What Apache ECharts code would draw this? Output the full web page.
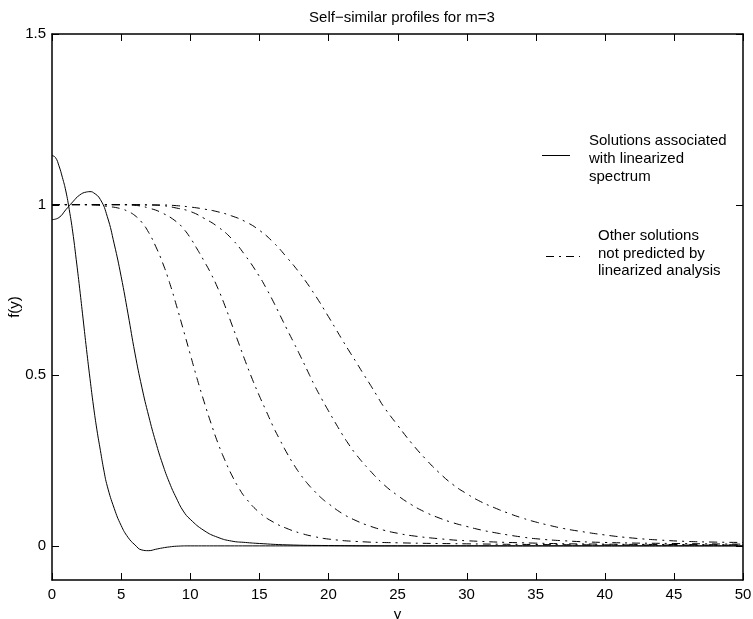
<!DOCTYPE html>
<html>
<head>
<meta charset="utf-8">
<script src="https://cdn.jsdelivr.net/npm/echarts@6/dist/echarts.min.js"></script>
<style>
  html, body { margin: 0; padding: 0; background: #fff; }
  #main { width: 753px; height: 619px; }
</style>
</head>
<body>
<div id="main"></div>
<script type="text/javascript">
    // 实线: solutions associated with linearized spectrum
    var s1X = [0, 0.25, 0.5, 0.75, 1, 1.25, 1.5, 1.75, 2, 2.25, 2.5, 2.75, 3, 3.25, 3.5, 3.75, 4, 4.5, 5, 5.5, 6, 6.5, 7, 7.5, 8, 8.5, 9, 10, 12, 15, 20, 30, 40, 50];
    var s1Y = [1.144, 1.138, 1.114, 1.08, 1.04, 0.985, 0.92, 0.84, 0.755, 0.665, 0.575, 0.49, 0.41, 0.34, 0.28, 0.222, 0.175, 0.11, 0.06, 0.025, 0.003, -0.012, -0.014, -0.01, -0.006, -0.003, -0.001, 0, 0, 0, 0, 0, 0, 0];
    var s2X = [0, 0.5, 1, 1.5, 2, 2.5, 2.75, 3, 3.5, 4, 4.5, 5, 5.5, 6, 6.5, 7, 7.5, 8, 8.5, 9, 9.5, 10, 11, 12, 13, 14, 15, 17, 20, 25, 30, 40, 50];
    var s2Y = [0.956, 0.962, 0.985, 1.008, 1.028, 1.037, 1.038, 1.035, 1.015, 0.965, 0.885, 0.79, 0.68, 0.565, 0.465, 0.38, 0.305, 0.24, 0.185, 0.14, 0.102, 0.078, 0.045, 0.025, 0.014, 0.01, 0.007, 0.003, 0.001, 0, 0, 0, 0];

    // 点划线: other solutions
    var aX = [0, 2, 3, 4, 5, 5.5, 6, 6.5, 7, 7.5, 8, 8.5, 9, 9.5, 10, 10.5, 11, 11.5, 12, 12.5, 13, 13.5, 14, 15, 16, 17, 18, 19, 20, 22, 25, 30, 35, 40, 50];
    var aY = [1, 1, 0.999, 0.995, 0.988, 0.98, 0.968, 0.948, 0.918, 0.878, 0.83, 0.772, 0.705, 0.634, 0.562, 0.49, 0.423, 0.36, 0.302, 0.252, 0.208, 0.171, 0.141, 0.098, 0.07, 0.051, 0.037, 0.027, 0.02, 0.013, 0.009, 0.006, 0.004, 0.003, 0.002];
    var bX = [0, 5, 6, 7, 8, 9, 9.5, 10, 10.5, 11, 11.5, 12, 12.5, 13, 13.5, 14, 14.5, 15, 15.5, 16, 16.5, 17, 17.5, 18, 18.5, 19, 19.5, 20, 21, 22, 23, 24, 25, 26, 28, 30, 35, 40, 45, 50];
    var bY = [1, 1, 0.998, 0.99, 0.975, 0.95, 0.93, 0.903, 0.87, 0.835, 0.798, 0.755, 0.705, 0.65, 0.595, 0.54, 0.488, 0.44, 0.395, 0.35, 0.31, 0.272, 0.238, 0.208, 0.182, 0.16, 0.14, 0.124, 0.095, 0.074, 0.058, 0.046, 0.037, 0.03, 0.021, 0.015, 0.008, 0.005, 0.004, 0.003];
    var cX = [0, 6, 7, 8, 9, 10, 11, 12, 13, 14, 15, 15.5, 16, 16.5, 17, 17.5, 18, 18.5, 19, 19.5, 20, 20.5, 21, 21.5, 22, 23, 24, 25, 26, 27, 28, 29, 30, 31, 32, 33, 34, 35, 37, 40, 45, 50];
    var cY = [1, 1, 0.999, 0.997, 0.99, 0.98, 0.96, 0.935, 0.9, 0.85, 0.79, 0.755, 0.717, 0.676, 0.635, 0.595, 0.554, 0.512, 0.47, 0.432, 0.396, 0.361, 0.327, 0.296, 0.268, 0.221, 0.18, 0.148, 0.121, 0.099, 0.082, 0.068, 0.057, 0.047, 0.039, 0.032, 0.026, 0.021, 0.015, 0.01, 0.007, 0.005];
    var dX = [0, 8, 9, 10, 11, 12, 13, 14, 15, 16, 17, 18, 19, 20, 20.5, 21, 21.5, 22, 22.5, 23, 23.5, 24, 25, 26, 27, 28, 29, 30, 31, 32, 33, 34, 35, 36, 37, 38, 40, 42, 44, 46, 48, 50];
    var dY = [1, 0.999, 0.997, 0.993, 0.987, 0.979, 0.967, 0.95, 0.925, 0.89, 0.845, 0.795, 0.737, 0.672, 0.638, 0.604, 0.571, 0.539, 0.506, 0.474, 0.441, 0.408, 0.354, 0.302, 0.256, 0.215, 0.18, 0.153, 0.13, 0.112, 0.096, 0.082, 0.07, 0.06, 0.051, 0.044, 0.032, 0.023, 0.017, 0.013, 0.011, 0.01];

    var xTicks = [0, 5, 10, 15, 20, 25, 30, 35, 40, 45, 50];
    var yTicks = [0, 0.5, 1, 1.5];
    var legendSolid = ['Solutions associated', 'with linearized', 'spectrum'];
    var legendDash = ['Other solutions', 'not predicted by', 'linearized analysis'];

    var FONT = '"Liberation Sans", Arial, Helvetica, sans-serif';
    var DASHDOT = [8, 5, 2, 5];
    var TICK = 7;

    function pairs(xs, ys) {
        var out = [];
        for (var i = 0; i < xs.length; i++) {
            out.push([xs[i], ys[i]]);
        }
        return out;
    }

    function curve(name, xs, ys, dashed) {
        return {
            name: name,
            type: 'line',
            data: pairs(xs, ys),
            smooth: 0.5,
            showSymbol: false,
            silent: true,
            xAxisIndex: 0,
            yAxisIndex: 0,
            lineStyle: { color: '#000', width: 1, type: dashed ? DASHDOT : 'solid' }
        };
    }

    // 图例文字
    function legendTexts(lines, x, y0, step) {
        var arr = [];
        for (var i = 0; i < lines.length; i++) {
            arr.push({
                type: 'text',
                x: x,
                y: y0 + i * step,
                style: { text: lines[i], font: '15px ' + FONT, fill: '#000', verticalAlign: 'middle' }
            });
        }
        return arr;
    }

    function axisLine() {
        return { show: true, onZero: false, lineStyle: { color: '#000', width: 1.5 } };
    }

    var myChart = echarts.init(document.getElementById('main'));

    var option = {
        animation: false,
        backgroundColor: '#fff',
        title: {
            text: 'Self\u2212similar profiles for m=3',
            left: 397,
            top: 5,
            textAlign: 'center',
            textStyle: { fontFamily: FONT, fontSize: 15, fontWeight: 'normal', color: '#000' }
        },
        grid: { left: 52, right: 10, top: 34, bottom: 39, containLabel: false, outerBoundsMode: 'none' },
        xAxis: [
            {
                type: 'value', min: 0, max: 50, interval: 5, position: 'bottom',
                name: 'y', nameLocation: 'middle', nameGap: 26,
                nameTextStyle: { fontFamily: FONT, fontSize: 15, color: '#000' },
                axisLine: axisLine(),
                axisTick: { show: false },
                splitLine: { show: false },
                axisLabel: { color: '#000', fontFamily: FONT, fontSize: 15, margin: 7 }
            },
            {
                type: 'value', min: 0, max: 50, interval: 5, position: 'top',
                axisLine: axisLine(),
                axisTick: { show: false },
                splitLine: { show: false },
                axisLabel: { show: false }
            }
        ],
        yAxis: [
            {
                type: 'value', min: -0.1, max: 1.5, position: 'left',
                name: 'f(y)', nameLocation: 'middle', nameGap: 30, nameRotate: 90, nameMoveOverlap: false,
                nameTextStyle: { fontFamily: FONT, fontSize: 15, color: '#000' },
                axisLine: axisLine(),
                axisTick: { show: false },
                splitLine: { show: false },
                axisLabel: { color: '#000', fontFamily: FONT, fontSize: 15, margin: 6, customValues: yTicks }
            },
            {
                type: 'value', min: -0.1, max: 1.5, position: 'right',
                axisLine: axisLine(),
                axisTick: { show: false },
                splitLine: { show: false },
                axisLabel: { show: false }
            }
        ],
        series: [
            curve('s1', s1X, s1Y, false),
            curve('s2', s2X, s2Y, false),
            curve('a', aX, aY, true),
            curve('b', bX, bY, true),
            curve('c', cX, cY, true),
            curve('d', dX, dY, true)
        ]
    };
    myChart.setOption(option);

    // 刻度线: 用坐标轴换算位置, 四边朝内
    var graphics = [
        { type: 'line', shape: { x1: 542, y1: 155.5, x2: 570, y2: 155.5 }, style: { stroke: '#000', lineWidth: 1 } },
        { type: 'line', shape: { x1: 546, y1: 256.5, x2: 580, y2: 256.5 }, style: { stroke: '#000', lineWidth: 1, lineDash: DASHDOT } }
    ].concat(legendTexts(legendSolid, 589, 141, 18)).concat(legendTexts(legendDash, 598, 236, 17.5));

    var yBottom = myChart.convertToPixel({ yAxisIndex: 0 }, -0.1);
    var yTop = myChart.convertToPixel({ yAxisIndex: 0 }, 1.5);
    var xLeft = myChart.convertToPixel({ xAxisIndex: 0 }, 0);
    var xRight = myChart.convertToPixel({ xAxisIndex: 0 }, 50);
    function tickLine(x1, y1, x2, y2) {
        return { type: 'line', silent: true, shape: { x1: x1, y1: y1, x2: x2, y2: y2 }, style: { stroke: '#000', lineWidth: 1 } };
    }
    for (var i = 0; i < xTicks.length; i++) {
        var px = Math.round(myChart.convertToPixel({ xAxisIndex: 0 }, xTicks[i])) + 0.5;
        graphics.push(tickLine(px, yBottom, px, yBottom - TICK));
        graphics.push(tickLine(px, yTop, px, yTop + TICK));
    }
    for (var j = 0; j < yTicks.length; j++) {
        var py = Math.round(myChart.convertToPixel({ yAxisIndex: 0 }, yTicks[j])) + 0.5;
        graphics.push(tickLine(xLeft, py, xLeft + TICK, py));
        graphics.push(tickLine(xRight, py, xRight - TICK, py));
    }
    myChart.setOption({ graphic: graphics });
</script>
</body>
</html>
